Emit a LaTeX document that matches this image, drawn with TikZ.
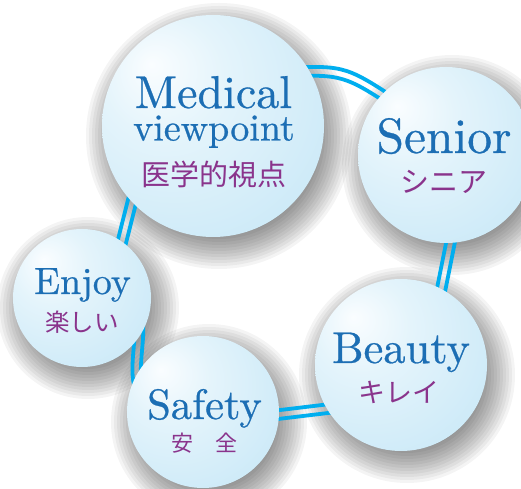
\documentclass[tikz,border=0pt]{standalone}
\usepackage{fontspec}
\newfontfamily\jp{Noto Sans CJK JP}
\newfontfamily\cen[FakeBold=0.6]{lmroman10-regular.otf}
\usetikzlibrary{calc}
\definecolor{txtblue}{RGB}{28,110,180}
\definecolor{txtpurple}{RGB}{138,52,140}
\definecolor{ringcyan}{RGB}{0,174,239}
\definecolor{bubA}{RGB}{250,253,255}
\definecolor{bubB}{RGB}{228,244,251}
\definecolor{bubC}{RGB}{205,234,248}
\definecolor{bubD}{RGB}{180,222,243}
\pgfdeclareradialshading{bubble}{\pgfpoint{-14bp}{14bp}}{color(0bp)=(bubA);color(14bp)=(bubB);color(36bp)=(bubC);color(58bp)=(bubD);color(70bp)=(bubD)}
\pgfdeclarelayer{bgl}
\pgfdeclarelayer{shadowl}
\pgfdeclarelayer{ringl}
\pgfsetlayers{bgl,shadowl,ringl,main}
\newcommand\fs[1]{\fontsize{#1bp}{#1bp}\selectfont}
\newcommand\ringpair[3]{%
  \draw[ringline, transform canvas={shift={(#1,#2)}}] #3;
  \draw[ringline, transform canvas={shift={({-(#1)},{-(#2)})}}] #3;}
\begin{document}
\begin{tikzpicture}[x=1bp,y=1bp,
  ball/.style={circle, inner sep=0pt, shade, shading=bubble, minimum size=#1},
  en/.style={text=txtblue, inner sep=0pt, anchor=base, font=\cen},
  ja/.style={text=txtpurple, inner sep=0pt, anchor=base, font=\jp},
  ringline/.style={draw=ringcyan, line width=3.8bp}]
\useasboundingbox (0,0) rectangle (521,489);
\begin{pgfonlayer}{bgl}
\fill[white] (0,0) rectangle (521,489);
\end{pgfonlayer}
% balls
\node[ball=222bp] (med) at (213,363) {};
\node[ball=176bp] (sen) at (446,334) {};
\node[ball=172bp] (bea) at (401,124) {};
\node[ball=152bp] (saf) at (203,77) {};
\node[ball=138bp] (enj) at (82,191) {};
% texts
\node[en] (medA) at (213.5,381) {\fs{46}Medical};
\node[en] (medB) at (214,348.5) {\fs{38}viewpoint};
\node[ja] (medC) at (214,303) {\fs{29}医学的視点};
\node[en] (senA) at (444,336) {\fs{49.5}Senior};
\node[ja] (senB) at (444,296) {\fs{29}シニア};
\node[en] (enjA) at (82.5,195) {\fs{38}Enjoy};
\node[ja] (enjB) at (82,157) {\fs{24.5}楽しい};
\node[en] (safA) at (204.5,70) {\fs{42.5}Safety};
\node[ja] (safB) at (204.5,37) {\fs{22}安　全};
\node[en] (beaA) at (401,126) {\fs{44.5}Beauty};
\node[ja] (beaB) at (399,86) {\fs{27}キレイ};
% shadows
\begin{pgfonlayer}{shadowl}
\foreach \n/\r in {med/111, sen/88, bea/86, saf/76, enj/69}{
  \foreach \k in {0,...,13}{
    \fill[black, opacity=0.045] ([shift={(6,-10)}]\n.center) circle[radius={\r+22-3*\k}];
  }
}
\end{pgfonlayer}
% ring
\begin{pgfonlayer}{ringl}
\ringpair{1.1}{4.4}{([shift={(72,54)}]med.center) .. controls (345,419) .. ([shift={(-41,45)}]sen.center)}
\ringpair{4.2}{-0.85}{([shift={(10,-60)}]sen.center) -- ([shift={(36,55)}]bea.center)}
\ringpair{-0.5}{4.3}{([shift={(-56,-41.6)}]bea.center) -- ([shift={(52,-5.4)}]saf.center)}
\ringpair{4.2}{-1}{([shift={(-58,12)}]saf.center) .. controls (128,108) and (143,150) .. ([shift={(56,-20)}]enj.center)}
\ringpair{4.2}{-1.05}{([shift={(34,33)}]enj.center) -- ([shift={(-73,-44)}]med.center)}
\end{pgfonlayer}
\end{tikzpicture}
\end{document}
